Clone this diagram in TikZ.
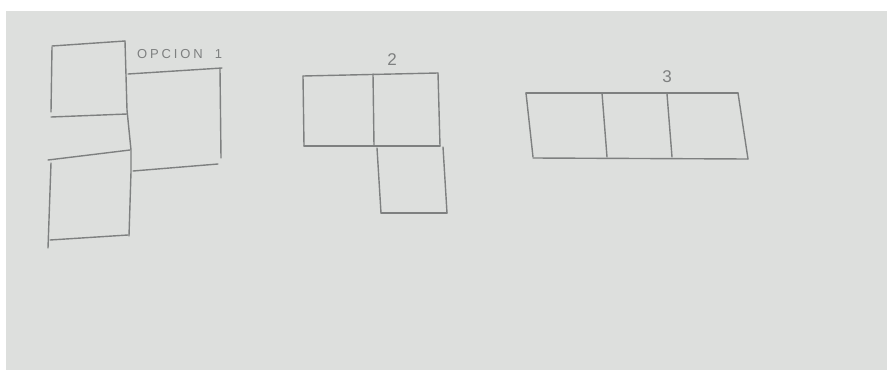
\documentclass[tikz,border=0pt]{standalone}
\usepackage{fontspec}
\setmainfont{Liberation Sans}
\newfontfamily\handspaced[LetterSpace=22]{Liberation Sans}
\definecolor{paper}{HTML}{DDDFDD}
\definecolor{pencil}{HTML}{7E8080}
\begin{document}
\begin{tikzpicture}[x=1pt,y=-1pt,
  pen/.style={draw=pencil,line width=1.4pt,line cap=round,line join=round},
  hand/.style={text=pencil,inner sep=0pt}]
\useasboundingbox (0,0) rectangle (888,370);
\fill[white] (0,0) rectangle (888,370);
\fill[paper] (6,11) rectangle (887,370);
% option 1
\draw[pen] (52,47) -- (51,112);
\draw[pen] (52,46) -- (125,41);
\draw[pen] (125,41) -- (127,110) -- (131,150) -- (131,172) -- (129,236);
\draw[pen] (51,117) -- (127,114);
\draw[pen] (128,74) -- (222,68);
\draw[pen] (220,69) -- (221,158);
\draw[pen] (133,171) -- (218,164);
\draw[pen] (48,160) -- (130,150);
\draw[pen] (51,163) -- (48,248);
\draw[pen] (50,240) -- (128,235);
\node[hand,font=\handspaced\fontsize{13}{13}\selectfont,anchor=west] (o1) at (137,54) {OPCION\hspace{12pt}1};
% option 2
\draw[pen] (303,76) -- (438,73);
\draw[pen] (303,76) -- (304,146);
\draw[pen] (304,146) -- (440,146);
\draw[pen] (373,74) -- (374,146);
\draw[pen] (438,73) -- (440,146);
\draw[pen] (377,148) -- (381,213);
\draw[pen] (381,213) -- (447,213);
\draw[pen] (443,147) -- (447,213);
\node[hand,font=\fontsize{17}{17}\selectfont] (n2) at (392,60) {2};
% option 3
\draw[pen] (526,93) -- (738,93);
\draw[pen] (526,93) -- (533,157);
\draw[pen] (533,158) -- (748,159);
\draw[pen] (602,93) -- (607,157);
\draw[pen] (667,94) -- (672,157);
\draw[pen] (738,93) -- (748,159);
\node[hand,font=\fontsize{17}{17}\selectfont] (n3) at (667,77) {3};
\end{tikzpicture}
\end{document}
